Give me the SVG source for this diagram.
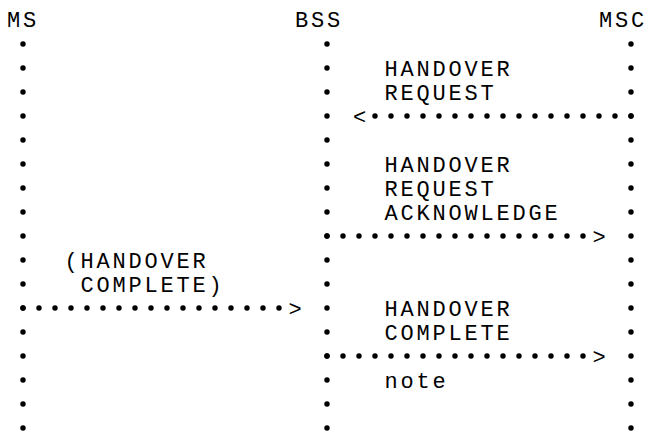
<svg xmlns="http://www.w3.org/2000/svg" width="652" height="439" viewBox="0 0 652 439">
<style>
text { font-family: "Liberation Mono", "DejaVu Sans Mono", monospace; font-size: 22px; letter-spacing: 2.8px; fill: #000; }
.ah { text-anchor: middle; letter-spacing: 0; }
.life { stroke: #000; stroke-width: 5.4; stroke-linecap: round; stroke-dasharray: 0 24; fill: none; }
.msg { stroke: #000; stroke-width: 5.4; stroke-linecap: round; stroke-dasharray: 0 16; fill: none; }
</style>
<rect width="652" height="439" fill="#fff"/>
<g id="node-ms"><text x="7" y="27">MS</text></g>
<g id="node-bss"><text x="295" y="27">BSS</text></g>
<g id="node-msc"><text x="599" y="27">MSC</text></g>
<g id="connectors">
  <line class="life" x1="23" y1="44" x2="23" y2="428.5"/>
  <line class="life" x1="327" y1="44" x2="327" y2="428.5"/>
  <line class="life" x1="631" y1="44" x2="631" y2="428.5"/>
  <g id="msg-handover-request">
    <line class="msg" x1="375" y1="116" x2="631.5" y2="116"/>
    <text class="ah" x="359.5" y="124">&lt;</text>
  </g>
  <g id="msg-handover-request-ack">
    <line class="msg" x1="327" y1="236" x2="583.5" y2="236"/>
    <text class="ah" x="599" y="244">&gt;</text>
  </g>
  <g id="msg-handover-complete-ms">
    <line class="msg" x1="23" y1="308" x2="279.5" y2="308"/>
    <text class="ah" x="295" y="316">&gt;</text>
  </g>
  <g id="msg-handover-complete">
    <line class="msg" x1="327" y1="356" x2="583.5" y2="356"/>
    <text class="ah" x="599" y="364">&gt;</text>
  </g>
</g>
<g id="labels">
  <text x="384.4" y="76">HANDOVER</text>
  <text x="384.4" y="100">REQUEST</text>
  <text x="384.4" y="172">HANDOVER</text>
  <text x="384.4" y="196">REQUEST</text>
  <text x="384.4" y="220">ACKNOWLEDGE</text>
  <text x="64.4" y="268">(HANDOVER</text>
  <text x="80.4" y="292">COMPLETE)</text>
  <text x="384.4" y="316">HANDOVER</text>
  <text x="384.4" y="340">COMPLETE</text>
  <text x="384.4" y="388">note</text>
</g>
</svg>
